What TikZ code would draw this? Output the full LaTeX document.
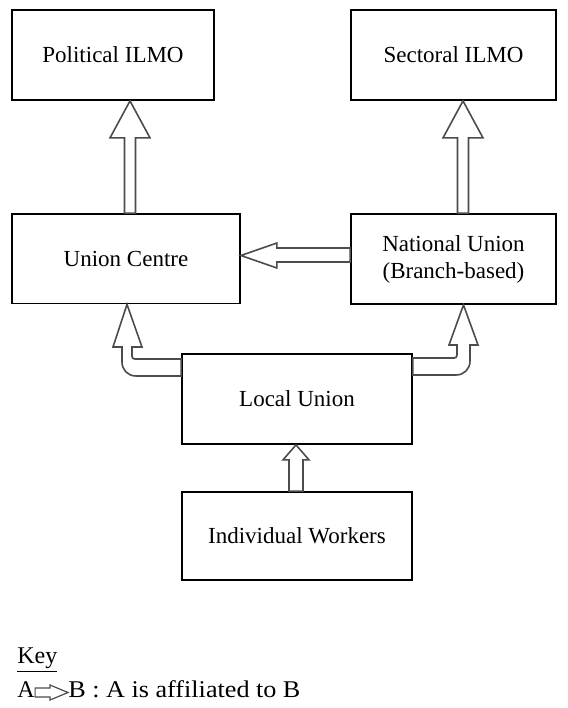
\documentclass[tikz,border=0pt]{standalone}
\usepackage{fontspec}
\usepackage{graphicx}
\setmainfont{Liberation Serif}
\usetikzlibrary{calc}

\tikzset{
  unitbox/.style={draw, line width=0.9pt, fill=white, align=center, inner sep=0pt,
    font=\fontsize{11.5}{13.5}\selectfont},
  blockarrow/.style={draw=black!70, line width=0.8pt, fill=white, line join=miter},
  keytext/.style={anchor=base west, inner sep=0pt, font=\fontsize{12}{14}\selectfont},
}
% upward hollow arrow: tip x, upper node, lower node, shaft half width, head half width, head length
\newcommand{\affup}[6]{%
  \draw[blockarrow] (#1,0 |- #2.south) -- ++(#5,#6) -- ++(-#5+#4,0)
    -- ($(#1,0 |- #3.north)+(#4,0)$) -- ($(#1,0 |- #3.north)+(-#4,0)$)
    -- ($(#1,0 |- #2.south)+(-#4,#6)$) -- ++(-#5+#4,0) -- cycle;}

\begin{document}
\begin{tikzpicture}[x=0.5pt, y=-0.5pt]
 \useasboundingbox (0,0) rectangle (568,708);
 % organisations
 \node[unitbox, minimum width=101pt, minimum height=45pt] (pilmo) at (113,55) {Political ILMO};
 \node[unitbox, minimum width=102.5pt, minimum height=45pt] (silmo) at (453.5,55) {Sectoral ILMO};
 \node[unitbox, minimum width=114pt, minimum height=44.75pt] (ucentre) at (126,258.75) {Union Centre};
 \node[unitbox, minimum width=102.5pt, minimum height=45pt] (nunion) at (453.5,259) {National Union\\(Branch-based)};
 \node[unitbox, minimum width=115pt, minimum height=45pt] (lunion) at (297,399) {Local Union};
 \node[unitbox, minimum width=115pt, minimum height=44pt] (iworkers) at (297,536) {Individual Workers};

 % affiliations
 \affup{130}{pilmo}{ucentre}{5.5}{20}{37}
 \affup{463}{silmo}{nunion}{5.5}{20}{37}
 \affup{296}{lunion}{iworkers}{7}{13}{15}
 \draw[blockarrow] (ucentre.east |- 0,255.5) -- ++(36,-12.5) -- ++(0,5)
   -- (nunion.west |- 0,248) -- (nunion.west |- 0,262)
   -- ($(ucentre.east |- 0,262)+(36,0)$) -- ++(0,6) -- cycle;
 \draw[blockarrow] (127,0 |- ucentre.south) -- (142,347) -- (132,347) -- (132,356)
   .. controls (132,358) and (133,359) .. (135,359) -- (lunion.west |- 0,359)
   -- (lunion.west |- 0,376) -- (136,376) .. controls (128,376) and (122,370) .. (122,362)
   -- (122,347) -- (113,347) -- cycle;
 \draw[blockarrow] (463.5,0 |- nunion.south) -- (478,345) -- (470,345) -- (470,361)
   .. controls (470,369) and (464,375) .. (456,375) -- (lunion.east |- 0,375)
   -- (lunion.east |- 0,358) -- (454,358) .. controls (456,358) and (457,357) .. (457,355)
   -- (457,345) -- (449,345) -- cycle;

 % key
 \node[keytext] (keyttl) at (17,663) {\underline{Key}};
 \node[keytext] (keya) at (17,697) {A};
 \node[keytext] (keyb) at (68,697) {\scalebox{1.09}[1]{B : A is affiliated to B}};
 \draw[blockarrow, line width=0.6pt] (keya.east |- 0,688) -- (50,688) -- (50,685)
   -- (keyb.west |- 0,692.5) -- (50,700) -- (50,697) -- (keya.east |- 0,697) -- cycle;
\end{tikzpicture}
\end{document}
